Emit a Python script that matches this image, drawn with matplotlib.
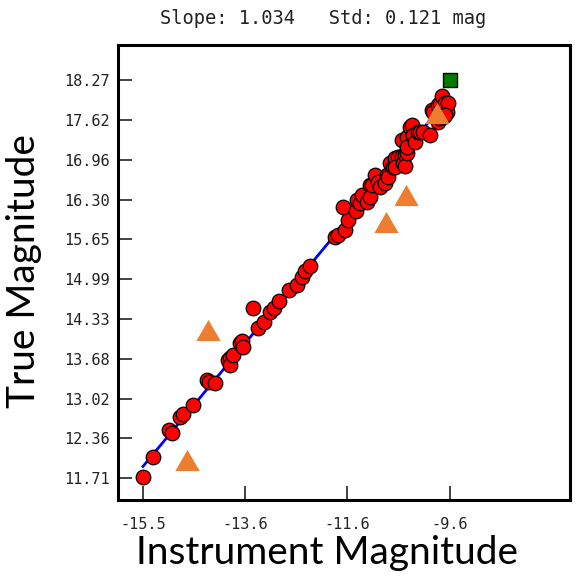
import numpy as np
import matplotlib.pyplot as plt
from matplotlib.ticker import FixedLocator

# calibration stars (instrument magnitude, true magnitude)
inst_mag = [
    -15.50, -15.31, -15.00, -14.94, -14.79, -14.73, -14.54, -14.27, -14.23, -14.12,
    -13.87, -13.83, -13.83, -13.77, -13.63, -13.60, -13.58, -13.38, -13.29, -13.17,
    -13.06, -12.98, -12.88, -12.69, -12.54, -12.44, -12.38, -12.29, -11.81, -11.75,
    -11.62, -11.56, -11.65, -11.40, -11.38, -11.33, -11.29, -11.19, -11.13, -11.13,
    -11.10, -11.04, -10.98, -10.94, -10.85, -10.81, -10.79, -10.75, -10.69, -10.65,
    -10.60, -10.65, -10.52, -10.50, -10.46, -10.46, -10.42, -10.52, -10.42, -10.42,
    -10.37, -10.33, -10.31, -10.27, -10.21, -10.17, -10.12, -9.98, -9.94, -9.92,
    -9.83, -9.83, -9.79, -9.79, -9.75, -9.73, -9.69, -9.65, -9.63, -9.69,
]
true_mag = [
    11.73, 12.06, 12.50, 12.45, 12.72, 12.76, 12.91, 13.33, 13.29, 13.28,
    13.65, 13.69, 13.57, 13.74, 13.93, 13.97, 13.87, 14.51, 14.18, 14.28,
    14.45, 14.51, 14.63, 14.81, 14.89, 15.02, 15.12, 15.20, 15.68, 15.71,
    15.80, 15.96, 16.18, 16.11, 16.29, 16.24, 16.38, 16.27, 16.54, 16.34,
    16.54, 16.70, 16.59, 16.51, 16.57, 16.70, 16.67, 16.90, 16.84, 16.98,
    17.00, 16.84, 17.02, 16.90, 17.03, 16.85, 17.07, 17.28, 17.33, 17.17,
    17.50, 17.53, 17.36, 17.25, 17.41, 17.41, 17.41, 17.36, 17.78, 17.74,
    17.86, 17.58, 17.64, 17.89, 18.01, 17.66, 17.89, 17.74, 17.89, 17.69,
]

# rejected stars
rej_inst = [-14.65, -14.25, -10.83, -10.44, -9.85]
rej_true = [12.01, 14.15, 15.93, 16.37, 17.73]

# target
target_inst = [-9.60]
target_true = [18.27]

slope = 1.034
intercept = 27.93
std = 0.121

x_ticks = [-15.50, -13.53, -11.57, -9.60]
x_labels = ["-15.5", "-13.6", "-11.6", "-9.6"]
y_ticks = [11.71, 12.366, 13.022, 13.678, 14.334, 14.99, 15.646, 16.302, 16.958, 17.614, 18.27]
y_labels = ["11.71", "12.36", "13.02", "13.68", "14.33", "14.99",
            "15.65", "16.30", "16.96", "17.62", "18.27"]

fig = plt.figure(figsize=(5.77, 5.76), dpi=100)
ax = fig.add_axes([118 / 577, 1 - 500 / 576, 452 / 577, 455 / 576])

fit_x = np.array([min(inst_mag), max(inst_mag)])
ax.plot(fit_x, slope * fit_x + intercept, color="#0000ff", lw=2, zorder=2)

ax.plot(inst_mag, true_mag, "o", ms=10.5, mfc="#ff0000", mec="black", mew=0.9, zorder=3)

tri = [(0, 0.87), (-1, -0.87), (1, -0.87)]
ax.plot(rej_inst, rej_true, ls="none", marker=tri, ms=17.5, mfc="#ed7d31", mec="none", zorder=4)

ax.plot(target_inst, target_true, "s", ms=10, mfc="#007a00", mec="black", mew=1.0, zorder=5)

ax.set_xlim(-15.98, -7.29)
ax.set_ylim(11.35, 18.85)

ax.xaxis.set_major_locator(FixedLocator(x_ticks))
ax.set_xticklabels(x_labels)
ax.yaxis.set_major_locator(FixedLocator(y_ticks))
ax.set_yticklabels(y_labels)

ax.tick_params(direction="in", length=10, width=1.3, color="#333333",
               labelsize=11, labelcolor="#222222")
ax.tick_params(axis="x", pad=12)
ax.tick_params(axis="y", pad=6)
for lab in ax.get_xticklabels() + ax.get_yticklabels():
    lab.set_family("DejaVu Sans Mono")

for sp in ax.spines.values():
    sp.set_linewidth(2.2)

fig.text(323.5 / 577, 1 - 18 / 576, f"Slope: {slope:.3f}   Std: {std:.3f} mag",
         family="DejaVu Sans Mono", fontsize=13.5, ha="center", va="center", color="#222222")
fig.text(327 / 577, 1 - 553 / 576, "Instrument Magnitude", family="Lato",
         fontsize=28, ha="center", va="center")
fig.text(24 / 577, 1 - 271 / 576, "True Magnitude", family="Lato",
         fontsize=28, ha="center", va="center", rotation=90)

fig.savefig("out.png", dpi=100)
